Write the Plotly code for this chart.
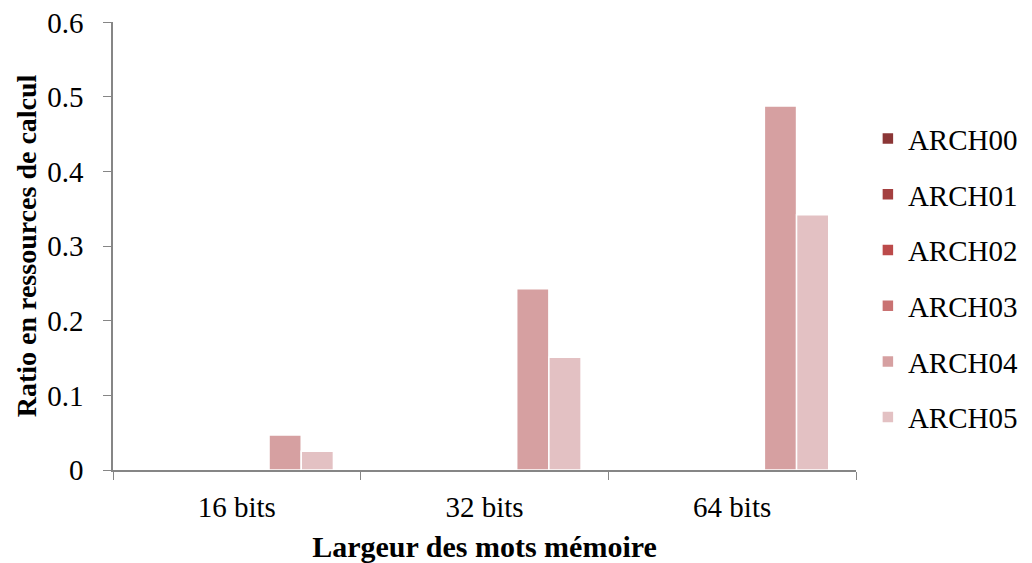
import plotly.graph_objs as go

# -----------------------------------------------------------------------
# data
categories = ['16 bits', '32 bits', '64 bits']
series_names = ['ARCH00', 'ARCH01', 'ARCH02', 'ARCH03', 'ARCH04', 'ARCH05']
arch00 = [0, 0, 0]
arch01 = [0, 0, 0]
arch02 = [0, 0, 0]
arch03 = [0, 0, 0]
arch04 = [0.047, 0.243, 0.488]
arch05 = [0.025, 0.151, 0.342]
y_ticks = [0, 0.1, 0.2, 0.3, 0.4, 0.5, 0.6]
y_tick_labels = ['0', '0.1', '0.2', '0.3', '0.4', '0.5', '0.6']

colors = ['#8B3636', '#A43F3F', '#BC4A4A', '#C97272', '#D6A0A1', '#E3C1C3']
values = [arch00, arch01, arch02, arch03, arch04, arch05]

font_family = 'Liberation Serif, Times New Roman, serif'

fig = go.Figure()
for name, vals, col in zip(series_names, values, colors):
    fig.add_trace(go.Bar(
        x=categories,
        y=vals,
        name=name,
        legendgroup=name,
        marker=dict(color=col, line=dict(color='#ffffff', width=1.5)),
    ))

# page body adds 8px around the figure, margins compensate for it
fig.update_layout(
    width=1032, height=563,
    barmode='group',
    bargap=0.22,
    bargroupgap=0,
    plot_bgcolor='#ffffff',
    paper_bgcolor='#ffffff',
    font=dict(family=font_family, size=29, color='#000000'),
    margin=dict(l=105, r=184, t=14, b=101),
    legend=dict(
        x=1.016, y=0.428, xanchor='left', yanchor='middle',
        font=dict(size=29),
        tracegroupgap=15,
        itemwidth=30,
    ),
    xaxis=dict(
        title=dict(text='<b>Largeur des mots mémoire</b>', font=dict(size=30), standoff=14),
        showline=True, linecolor='#868686', linewidth=1.5,
        ticks='outside', tickson='boundaries', ticklen=8, tickcolor='#868686',
        ticklabelstandoff=10,
        showgrid=False, automargin=False,
    ),
    yaxis=dict(
        title=dict(text='<b>Ratio en ressources de calcul</b>', font=dict(size=28), standoff=2),
        range=[0, 0.6005],
        tickvals=y_ticks, ticktext=y_tick_labels,
        showline=True, linecolor='#868686', linewidth=1.5,
        ticks='outside', ticklen=8, tickcolor='#868686',
        ticklabelstandoff=14, ticklabeloverflow='allow',
        showgrid=False, zeroline=False, automargin=False,
    ),
)

fig.write_html('out.html')
